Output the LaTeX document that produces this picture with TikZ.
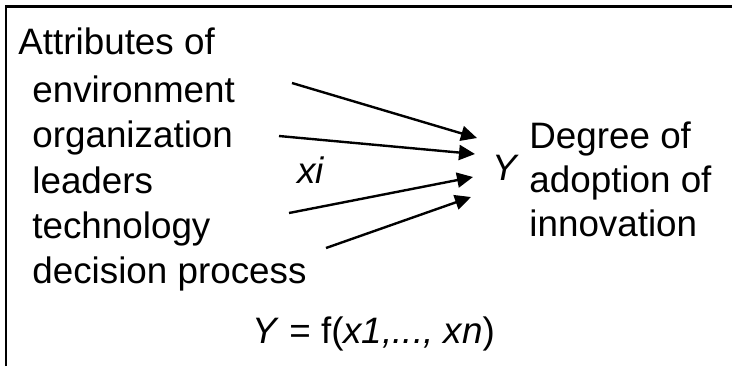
\documentclass[tikz,border=0pt]{standalone}
\usepackage{fontspec}
\setmainfont{Liberation Sans}
\usetikzlibrary{arrows.meta}
\newcommand{\MolduraAdocao}{%
\draw[line width=1.3pt](6,366)--(6,6.5)--(732,6.5);}
\begin{document}
\begin{tikzpicture}[x=.5pt,y=-.5pt,every node/.style={font=\fontsize{18.4pt}{22pt}\selectfont,inner sep=0pt,anchor=base west},
 seta/.style={line width=1.2pt,-{Triangle[length=8pt,width=7.5pt]}}]
\useasboundingbox(0,0)rectangle(732,366);
\MolduraAdocao
\node(attr)at(18,54){Attributes of};
\node(env)at(32,102){environment};
\node(org)at(32,147.5){organization};
\node(lead)at(32,193){leaders};
\node(tech)at(32,238){technology};
\node(dec)at(32,283.5){decision process};
\node(xi)at(297,183){\textit{xi}};
\node(y)at(492,180){\textit{Y}};
\node(deg)at(529,148){Degree of};
\node(adop)at(529,192){adoption of};
\node(inov)at(529,236){innovation};
\node(func)at(252,343){\textit{Y} = f(\textit{x1,..., xn})};
% setas xi -> Y
\coordinate(a1)at(292,83);\coordinate(b1)at(477,138);
\coordinate(a2)at(279,136);\coordinate(b2)at(475,154);
\coordinate(a3)at(289,213);\coordinate(b3)at(473,177);
\coordinate(a4)at(326,248);\coordinate(b4)at(471,197);
\foreach \i in {1,...,4}{\draw[seta](a\i)--(b\i);}
\end{tikzpicture}
\end{document}
